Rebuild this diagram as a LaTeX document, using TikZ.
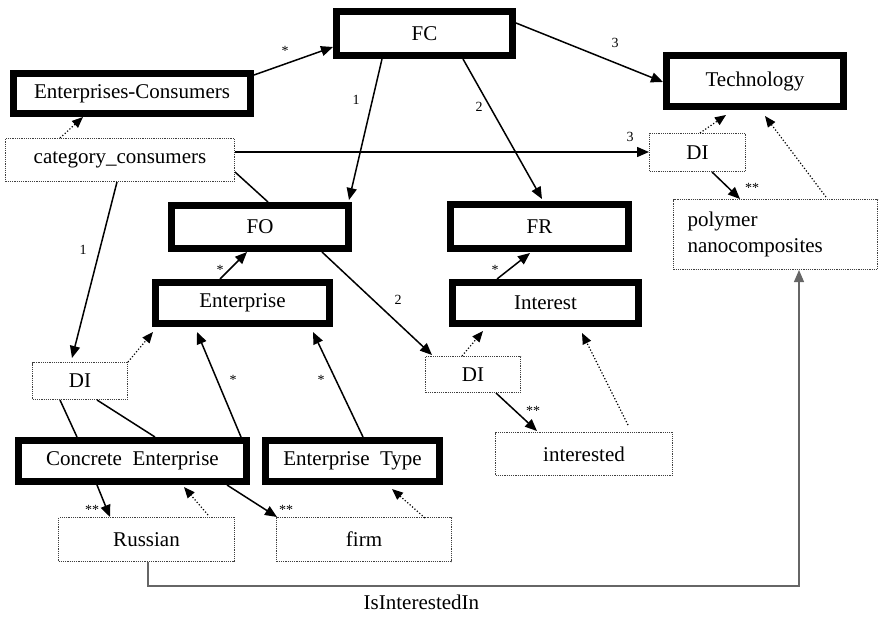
\documentclass[tikz,border=0pt]{standalone}
\usepackage{fontspec}
\setmainfont{Liberation Serif}
\usepackage{tikz}
\usetikzlibrary{arrows.meta,calc}

\tikzset{
  % concept box with heavy frame
  concept/.style={draw, line width=7pt, fill=white, inner sep=0pt,
    font=\fontsize{21}{25}\selectfont},
  % individual box with dotted frame
  instance/.style={draw=black!75, densely dotted, line width=1.2pt, fill=white,
    inner sep=0pt, font=\fontsize{21}{25}\selectfont},
  % relations
  rel/.style={line width=1.5pt, -{Triangle[length=12pt,width=10pt]}},
  isa/.style={line width=1.2pt, dotted, -{Triangle[length=11pt,width=9pt]}},
  link/.style={line width=1.5pt},
  % multiplicity labels
  lbl/.style={font=\fontsize{14}{16}\selectfont, inner sep=1pt},
  star/.style={lbl, yshift=-3pt}
}

\begin{document}
\begin{tikzpicture}[x=1pt,y=-1pt]
  \useasboundingbox (0,0) rectangle (880,618);

  % concepts
  \node[concept, minimum width=176pt, minimum height=44pt] (FC) at (424.5,33.5) {FC};
  \node[concept, minimum width=237pt, minimum height=40pt] (EC) at (132,93.5) {Enterprises-Consumers};
  \node[concept, minimum width=177pt, minimum height=51pt] (Tech) at (755,81) {Technology};
  \node[concept, minimum width=177pt, minimum height=43pt] (FO) at (260,227) {FO};
  \node[concept, minimum width=178pt, minimum height=44pt] (FR) at (539.5,226.5) {FR};
  \node[concept, minimum width=174pt, minimum height=41pt] (Ent) at (242.5,303) {Enterprise};
  \node[concept, minimum width=186pt, minimum height=41pt] (Int) at (545.5,303) {Interest};
  \node[concept, minimum width=228pt, minimum height=41pt] (CE) at (132.5,461) {Concrete\ \ Enterprise};
  \node[concept, minimum width=174pt, minimum height=41pt] (ET) at (352.5,461) {Enterprise\ \ Type};

  % individuals
  \node[instance, minimum width=229pt, minimum height=43pt] (cat) at (120,160) {category\_consumers};
  \node[instance, minimum width=96pt, minimum height=38pt] (DIa) at (697.5,152.5) {DI};
  \node[instance, minimum width=204pt, minimum height=70pt, text width=176pt, align=left,
    font=\fontsize{21}{26}\selectfont] (poly) at (775.5,234.5) {polymer\\nanocomposites};
  \node[instance, minimum width=95pt, minimum height=37pt] (DIb) at (80,381) {DI};
  \node[instance, minimum width=95pt, minimum height=36pt] (DIc) at (473,374.5) {DI};
  \node[instance, minimum width=177pt, minimum height=43pt] (intd) at (584,454) {interested};
  \node[instance, minimum width=176pt, minimum height=44pt] (Rus) at (146.5,539.5) {Russian};
  \node[instance, minimum width=175pt, minimum height=44pt] (firm) at (364,539.5) {firm};

  % relations between concepts
  \draw[rel] ($(EC)+(122,-18.5)$) -- ($(FC)+(-91.5,13.5)$);
  \draw[rel] ($(FC)+(91.5,-10.5)$) -- ($(Tech)+(-92,1)$);
  \draw[rel] ($(FC)+(-42.5,25.5)$) -- ($(FO)+(89,-27)$);
  \draw[rel] ($(FC)+(38.5,25.5)$) -- ($(FR)+(2.5,-27.5)$);
  \draw[rel] ($(Ent)+(-22.5,-24)$) -- ($(FO)+(-13,25)$);
  \draw[rel] ($(Int)+(-48.5,-24)$) -- ($(FR)+(-9.5,26.5)$);
  \draw[rel] ($(FO)+(62,25)$) -- ($(DIc)+(-41,-19.5)$);
  \draw[rel] ($(CE)+(108.5,-24)$) -- ($(Ent)+(-45.5,29)$);
  \draw[rel] ($(ET)+(10.5,-24)$) -- ($(Ent)+(70.5,29)$);

  % relations from individuals
  \draw[rel] ($(cat)+(115,-8)$) -- ($(DIa)+(-48.5,-0.5)$);
  \draw[link] ($(cat)+(115,12)$) -- ($(FO)+(8,-25)$);
  \draw[rel] ($(cat)+(-3,22)$) -- ($(DIb)+(-8,-23)$);
  \draw[rel] ($(DIa)+(14.5,19.5)$) -- ($(poly)+(-35.5,-35.5)$);
  \draw[rel] ($(DIc)+(23,18.5)$) -- ($(intd)+(-47,-23)$);
  \draw[link] ($(DIb)+(-20,19)$) -- ($(CE)+(-55.5,-24)$);
  \draw[link] ($(DIb)+(17,19)$) -- ($(CE)+(22.5,-24)$);
  \draw[rel] ($(CE)+(-35.5,24)$) -- ($(Rus)+(-36.5,-22.5)$);
  \draw[rel] ($(CE)+(94.5,24)$) -- ($(firm)+(-87,-22.5)$);

  % instance-of links
  \draw[isa] ($(cat)+(-60,-22)$) -- ($(EC)+(-49,23.5)$);
  \draw[isa] ($(DIa)+(2.5,-19.5)$) -- ($(Tech)+(-29,34)$);
  \draw[isa] ($(poly)+(50.5,-37.5)$) -- ($(Tech)+(10,35)$);
  \draw[isa] ($(DIc)+(-11,-18.5)$) -- ($(Int)+(-62.5,28)$);
  \draw[isa] ($(intd)+(44,-29)$) -- ($(Int)+(36.5,30)$);
  \draw[isa] ($(DIb)+(48,-19)$) -- ($(Ent)+(-89.5,29)$);
  \draw[isa] ($(Rus)+(61.5,-24.5)$) -- ($(CE)+(51.5,26)$);
  \draw[isa] ($(firm)+(61,-21.5)$) -- ($(ET)+(39.5,28)$);

  % IsInterestedIn
  \draw[rel, draw=black!60, line width=1.2pt] ($(Rus)+(1.5,22.5)$) -- ++(0,24)
    -| node[pos=.21, below=5pt, text=black, font=\fontsize{21}{25}\selectfont] (isin) {IsInterestedIn}
    ($(poly)+(23.5,35.5)$);

  % multiplicities
  \node[star] (m1) at (285,48) {*};
  \node[lbl] (m2) at (615,43) {3};
  \node[lbl] (m3) at (356,100) {1};
  \node[lbl] (m4) at (479,107) {2};
  \node[lbl] (m5) at (630,137) {3};
  \node[lbl] (m6) at (83,250) {1};
  \node[star] (m7) at (752,185) {**};
  \node[star] (m8) at (220,267) {*};
  \node[star] (m9) at (495,267) {*};
  \node[lbl] (m10) at (398,300) {2};
  \node[star] (m11) at (533,408) {**};
  \node[star] (m12) at (233,377) {*};
  \node[star] (m13) at (321,377) {*};
  \node[star] (m14) at (92,507) {**};
  \node[star] (m15) at (286,507) {**};
\end{tikzpicture}
\end{document}
